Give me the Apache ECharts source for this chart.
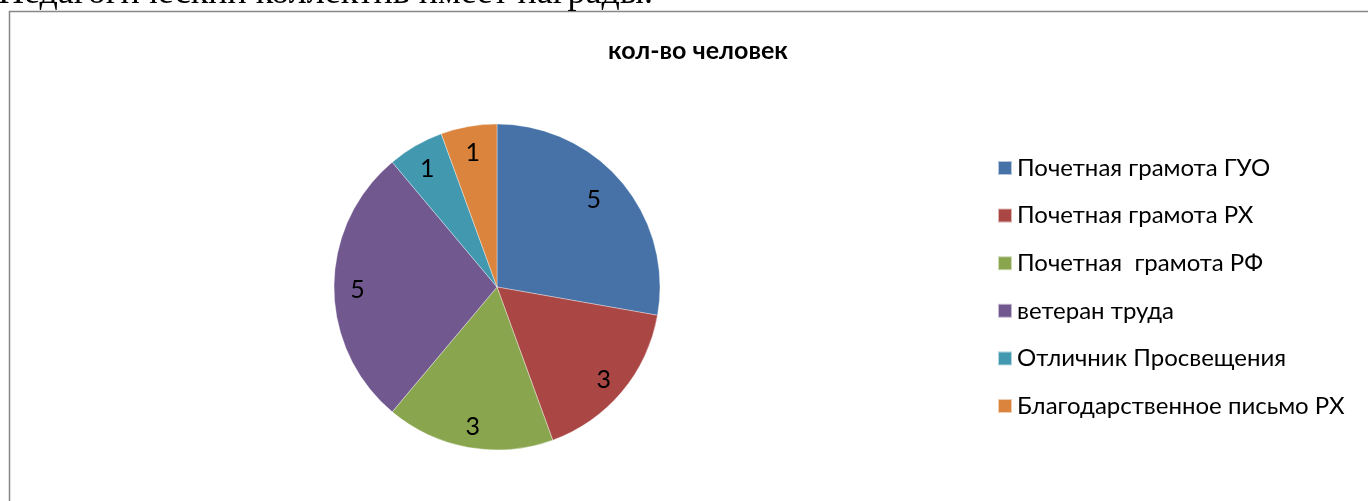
<!DOCTYPE html>
<html>
<head>
<meta charset="utf-8">
<script src="https://cdn.jsdelivr.net/npm/echarts@6/dist/echarts.min.js"></script>
<style>
  html, body { margin: 0; padding: 0; background: #fff; }
  #main { width: 1368px; height: 501px; }
</style>
</head>
<body>
<div id="main"></div>
<script>
// награды педагогов
var categories = ['Почетная грамота ГУО', 'Почетная грамота РХ', 'Почетная  грамота РФ',
    'ветеран труда', 'Отличник Просвещения', 'Благодарственное письмо РХ']
var values = [5, 3, 3, 5, 1, 1]
var colors = ['#4672a8', '#aa4643', '#89a54e', '#71588f', '#4198af', '#db843d']

var font = 'Lato, "Open Sans", sans-serif'

function getPieChart() {
    var el = document.getElementById('main')
    var chart = echarts.init(el)
    var data = categories.map(function (name, i) {
        return {name: name, value: values[i], itemStyle: {color: colors[i]}}
    })
    var option = {
        animation: false,
        color: colors,
        title: {
            text: 'кол-во человек',
            left: 693,
            top: 33,
            textAlign: 'center',
            textStyle: {fontFamily: font, fontWeight: 'bold', fontSize: 25, color: '#000'}
        },
        graphic: [
            {
                type: 'rect',
                shape: {x: 9.5, y: 11.5, width: 1500, height: 600},
                style: {fill: 'none', stroke: '#878787', lineWidth: 1.5}
            },
            {
                type: 'text',
                x: -2, y: -24,
                style: {
                    text: 'Педагогический коллектив имеет награды.',
                    font: '36px "Liberation Serif", serif',
                    fill: '#000'
                }
            }
        ],
        legend: {
            orient: 'vertical',
            left: 992,
            top: 151,
            itemWidth: 14,
            itemHeight: 14,
            itemGap: 23.6,
            icon: 'rect',
            data: categories,
            textStyle: {fontFamily: font, fontSize: 24, color: '#000'}
        },
        series: [
            {
                type: 'pie',
                center: [497, 287],
                radius: [0, 163],
                startAngle: 90,
                clockwise: true,
                silent: true,
                label: {show: false},
                labelLine: {show: false},
                itemStyle: {borderColor: 'rgba(255,255,255,0.6)', borderWidth: 0.6},
                data: data
            },
            {
                // только подписи
                type: 'pie',
                center: [497, 287],
                radius: [110, 163],
                startAngle: 90,
                clockwise: true,
                silent: true,
                legendHoverLink: false,
                itemStyle: {color: 'rgba(0,0,0,0)'},
                label: {
                    show: true,
                    position: 'inside',
                    formatter: '{c}',
                    fontFamily: font,
                    fontSize: 25,
                    color: '#000',
                    offset: [0, 3]
                },
                labelLine: {show: false},
                data: categories.map(function (name, i) {
                    var d = {name: name + ' ', value: values[i]}
                    if (i === 0) d.label = {offset: [-10, 3]}
                    return d
                })
            }
        ]
    }
    chart.setOption(option)
}

getPieChart()
</script>
</body>
</html>
